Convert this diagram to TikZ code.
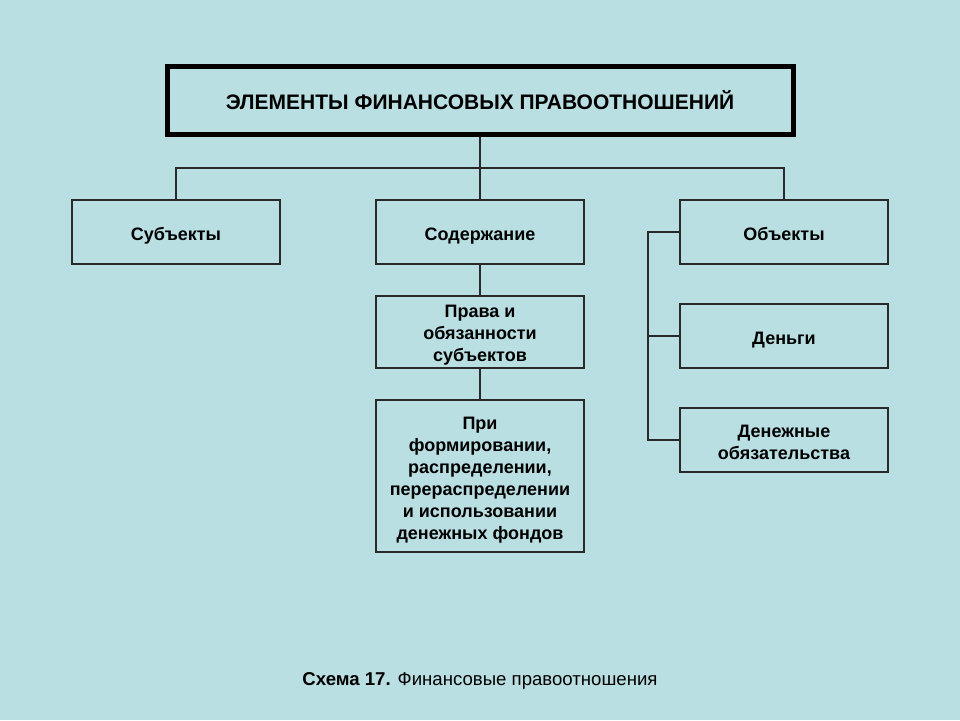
\documentclass[tikz,border=0pt]{standalone}
\usepackage{fontspec}
\setmainfont{Liberation Sans}
\definecolor{bg}{HTML}{BADFE2}
\definecolor{ln}{HTML}{2A2A2A}
\begin{document}
\begin{tikzpicture}[x=1pt,y=-1pt,
  box/.style={draw=ln,line width=1.3pt,minimum width=208pt,inner sep=0pt},
  tone/.style={font=\fontsize{18}{22}\selectfont\bfseries,inner sep=0pt,text height=16pt,text depth=0pt},
  tmany/.style={font=\fontsize{18}{22}\selectfont\bfseries,inner sep=0pt,align=center},
  conn/.style={draw=ln,line width=1.3pt}]
\fill[bg] (0,0) rectangle (960,720);
\useasboundingbox (0,0) rectangle (960,720);
\node[draw=black,line width=5pt,minimum width=626pt,minimum height=68pt,
  font=\fontsize{21}{24}\selectfont\bfseries] (title) at (480,100) {ЭЛЕМЕНТЫ ФИНАНСОВЫХ ПРАВООТНОШЕНИЙ};
\node[box,minimum height=64pt,label={[tone]center:Субъекты}] (subj) at (176,232) {};
\node[box,minimum height=64pt,label={[tone]center:Содержание}] (sod) at (480,232) {};
\node[box,minimum height=64pt,label={[tone]center:Объекты}] (obj) at (784,232) {};
\node[box,minimum height=72pt,label={[tmany,yshift=-3.5pt]center:{Права и\\обязанности\\субъектов}}] (prava) at (480,332) {};
\node[box,minimum height=152pt,label={[tmany,yshift=-4.5pt]center:{При\\формировании,\\распределении,\\перераспределении\\и использовании\\денежных фондов}}] (pri) at (480,476) {};
\node[box,minimum height=64pt,label={[tone]center:Деньги}] (den) at (784,336) {};
\node[box,minimum height=64pt,label={[tmany,yshift=-2pt]center:{Денежные\\обязательства}}] (dob) at (784,440) {};
\coordinate (bus) at (480,168);
\coordinate (br) at (648,0);
\draw[conn] (title.south) -- (sod.north);
\draw[conn] (subj.north) |- (bus) -| (obj.north);
\draw[conn] (sod.south) -- (prava.north);
\draw[conn] (prava.south) -- (pri.north);
\draw[conn] (obj.west) -- (obj.west -| br) |- (dob.west);
\draw[conn] (den.west) -- (den.west -| br);
\node[font=\fontsize{18.6}{20}\selectfont] (cap) at (480,681) {\textbf{Схема 17.} Финансовые правоотношения};
\end{tikzpicture}
\end{document}
